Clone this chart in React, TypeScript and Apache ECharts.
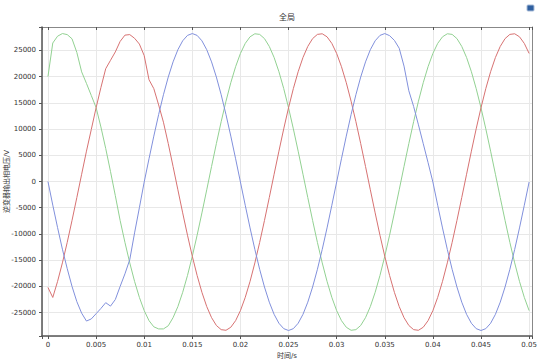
import React, { useEffect, useRef } from "react";
import * as echarts from "echarts";

// Sample step of the time axis (s)
const SAMPLE_STEP = 0.0005;

const titleText = "全局";
const xAxisName = "时间/s";
const yAxisName = "逆变器输出相电压/V";

// Phase voltages, one value every 0.0005 s from 0 to 0.05 s
const blueValues = [
  0, -4500, -8800, -12900, -16600, -20000, -22900, -25100, -26600, -26200,
  -25200, -24200, -23100, -23750, -22500, -20000, -17600, -14900, -9800, -5000,
  -100, 4330, 8650, 12750, 16540, 19910, 22800, 25120, 26820, 27850,
  28200, 27850, 26820, 25120, 22800, 19910, 16540, 12750, 8650, 4330,
  -100, -4530, -8850, -12950, -16740, -20110, -23000, -25320, -27020, -28050,
  -28400, -28050, -27020, -25320, -23000, -20110, -16740, -12950, -8850, -4530,
  -100, 4330, 8650, 12750, 16540, 19910, 22800, 25120, 26820, 27850,
  28200, 27800, 26900, 25400, 22000, 17300, 14300, 10800, 7200, 3600,
  -100, -4530, -8850, -12950, -16740, -20110, -23000, -25320, -27020, -28050,
  -28400, -28050, -27020, -25320, -23000, -20110, -16740, -12950, -8850, -4530,
  -100,
];

const redValues = [
  -20200, -22100, -19040, -15510, -11610, -7420, -3060, 1380, 5780, 9900,
  14050, 17900, 21500, 23100, 24700, 26700, 27900, 28000, 27300, 26200,
  24000, 19400, 17700, 14600, 11300, 7220, 2860, -1580, -5980, -10240,
  -14250, -17910, -21130, -23840, -25950, -27440, -28240, -28360, -27780, -26520,
  -24610, -22090, -19040, -15510, -11610, -7420, -3060, 1380, 5780, 10040,
  14050, 17710, 20930, 23640, 25750, 27240, 28040, 28160, 27580, 26320,
  24410, 21890, 18840, 15310, 11410, 7220, 2860, -1580, -5980, -10240,
  -14250, -17910, -21130, -23840, -25950, -27440, -28240, -28360, -27780, -26520,
  -24610, -22090, -19040, -15510, -11610, -7420, -3060, 1380, 5780, 10040,
  14050, 17710, 20930, 23640, 25750, 27240, 28040, 28160, 27580, 26320,
  24410,
];

const greenValues = [
  20000, 26400, 27700, 28200, 28000, 27200, 24600, 20900, 18700, 16400,
  14100, 10400, 6300, 1900, -2700, -7420, -11610, -15510, -19040, -22090,
  -24610, -26520, -27700, -28100, -28100, -27500, -25950, -23840, -21130, -17910,
  -14250, -10240, -5980, -1580, 2860, 7220, 11410, 15310, 18840, 21890,
  24410, 26320, 27580, 28160, 28040, 27240, 25750, 23640, 20930, 17710,
  14050, 10040, 5780, 1380, -3060, -7420, -11610, -15510, -19040, -22090,
  -24610, -26520, -27780, -28360, -28240, -27440, -25950, -23840, -21130, -17910,
  -14250, -10240, -5980, -1580, 2860, 7220, 11410, 15310, 18840, 21890,
  24410, 26320, 27580, 28160, 28040, 27240, 25750, 23640, 20930, 17710,
  14050, 10040, 5780, 1380, -3060, -7420, -11610, -15510, -19040, -22090,
  -24610,
];

const FONT = "'DejaVu Sans', 'Noto Sans CJK SC', sans-serif";

function toPairs(values: number[]) {
  return values.map((v, i) => [Number((i * SAMPLE_STEP).toFixed(4)), v]);
}

function isMultiple(v: number, step: number) {
  const r = v / step;
  return Math.abs(r - Math.round(r)) < 1e-6;
}

export default function App() {
  const ref = useRef<HTMLDivElement>(null);

  useEffect(() => {
    if (!ref.current) return;
    const chart = echarts.init(ref.current, null, { renderer: "svg" });
    const axisDark = "#555";
    const axisLight = "#888";
    chart.setOption({
      animation: false,
      backgroundColor: "#ffffff",
      title: {
        text: titleText,
        left: 282,
        top: 8,
        textAlign: "center",
        textStyle: { fontSize: 8, fontWeight: "normal", color: "#333", fontFamily: FONT },
      },
      graphic: [
        {
          type: "rect",
          shape: { x: 527, y: 5, width: 7, height: 6, r: 1 },
          style: { fill: "#2f5f9f", stroke: "#a8bcd8", lineWidth: 1 },
        },
      ],
      grid: {
        left: 42,
        right: 8,
        top: 27,
        bottom: 24,
        containLabel: false,
        outerBoundsMode: "none",
      },
      xAxis: [
        {
          type: "value",
          min: -0.00062,
          max: 0.0503,
          splitNumber: 10,
          name: xAxisName,
          nameLocation: "middle",
          nameGap: 16,
          nameMoveOverlap: false,
          nameTextStyle: { fontSize: 7, color: "#333", fontFamily: FONT },
          axisLine: { show: true, onZero: false, lineStyle: { color: axisDark, width: 1.5 } },
          axisTick: { show: true, inside: false, length: 3, lineStyle: { color: axisDark } },
          axisLabel: {
            fontSize: 7,
            color: "#333",
            fontFamily: FONT,
            margin: 5,
            formatter: (v: number) =>
              isMultiple(v, 0.005) ? String(Number(v.toFixed(4))) : "",
          },
          splitLine: { show: true, lineStyle: { color: "#e8e8e8", width: 1 } },
        },
        {
          type: "value",
          position: "top",
          min: -0.00062,
          max: 0.0503,
          splitNumber: 10,
          axisLine: { show: true, onZero: false, lineStyle: { color: axisLight, width: 1 } },
          axisTick: { show: true, inside: true, length: 3, lineStyle: { color: "#555" } },
          axisLabel: { show: false },
          splitLine: { show: false },
        },
      ],
      yAxis: [
        {
          type: "value",
          min: -29450,
          max: 29450,
          splitNumber: 12,
          name: yAxisName,
          nameLocation: "middle",
          nameGap: 32,
          nameMoveOverlap: false,
          nameTextStyle: { fontSize: 7, color: "#333", fontFamily: FONT },
          axisLine: { show: true, onZero: false, lineStyle: { color: axisDark, width: 1.5 } },
          axisTick: { show: true, inside: false, length: 3, lineStyle: { color: axisDark } },
          axisLabel: {
            fontSize: 7,
            color: "#333",
            fontFamily: FONT,
            margin: 6,
            formatter: (v: number) => (isMultiple(v, 5000) ? String(Math.round(v)) : ""),
          },
          splitLine: { show: true, lineStyle: { color: "#e8e8e8", width: 1 } },
        },
        {
          type: "value",
          position: "right",
          min: -29450,
          max: 29450,
          splitNumber: 12,
          axisLine: { show: true, onZero: false, lineStyle: { color: axisLight, width: 1 } },
          axisTick: { show: false },
          axisLabel: { show: false },
          splitLine: { show: false },
        },
      ],
      series: [
        {
          name: "green",
          type: "line",
          data: toPairs(greenValues),
          showSymbol: false,
          lineStyle: { color: "#92d192", width: 1 },
          itemStyle: { color: "#92d192" },
        },
        {
          name: "red",
          type: "line",
          data: toPairs(redValues),
          showSymbol: false,
          lineStyle: { color: "#d77272", width: 1 },
          itemStyle: { color: "#d77272" },
        },
        {
          name: "blue",
          type: "line",
          data: toPairs(blueValues),
          showSymbol: false,
          lineStyle: { color: "#8190dc", width: 1 },
          itemStyle: { color: "#8190dc" },
        },
      ],
    });
    return () => chart.dispose();
  }, []);

  return (
    <div
      ref={ref}
      style={{ position: "fixed", left: 0, top: 0, width: 540, height: 360 }}
    />
  );
}
